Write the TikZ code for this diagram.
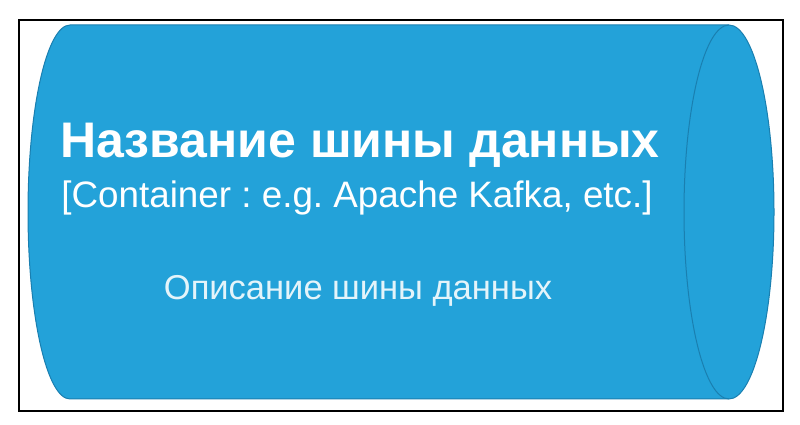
\documentclass[tikz,border=0pt]{standalone}
\usepackage{fontspec}
\setmainfont{Liberation Sans}
\frenchspacing
\definecolor{busfill}{HTML}{23A2D9}
\definecolor{busline}{HTML}{1A7FB0}
\begin{document}
\begin{tikzpicture}[x=1pt,y=1pt,
    title/.style={text=white,font=\bfseries\fontsize{50}{54}\selectfont},
    kind/.style={text=white,font=\fontsize{36.8}{40}\selectfont},
    descr/.style={text=white!88!busfill,font=\fontsize{34.5}{38}\selectfont}]
  \useasboundingbox (0,0) rectangle (800,425);
  \draw[line width=2.8pt] (19,14) rectangle (783,405);
  \draw[fill=busfill,draw=busline,line width=1pt]
    (70,400) -- (729,400)
    arc[start angle=90,end angle=-90,x radius=45,y radius=187]
    -- (70,26)
    arc[start angle=270,end angle=90,x radius=42,y radius=187] -- cycle;
  \draw[busline,line width=1pt]
    (729,400) arc[start angle=90,end angle=270,x radius=45,y radius=187];
  \node[title] (name) at (360,280) {Название шины данных};
  \node[kind] (type) at (357,227) {[Container : e.g. Apache Kafka, etc.]};
  \node[descr] (desc) at (358,134) {Описание шины данных};
\end{tikzpicture}
\end{document}
